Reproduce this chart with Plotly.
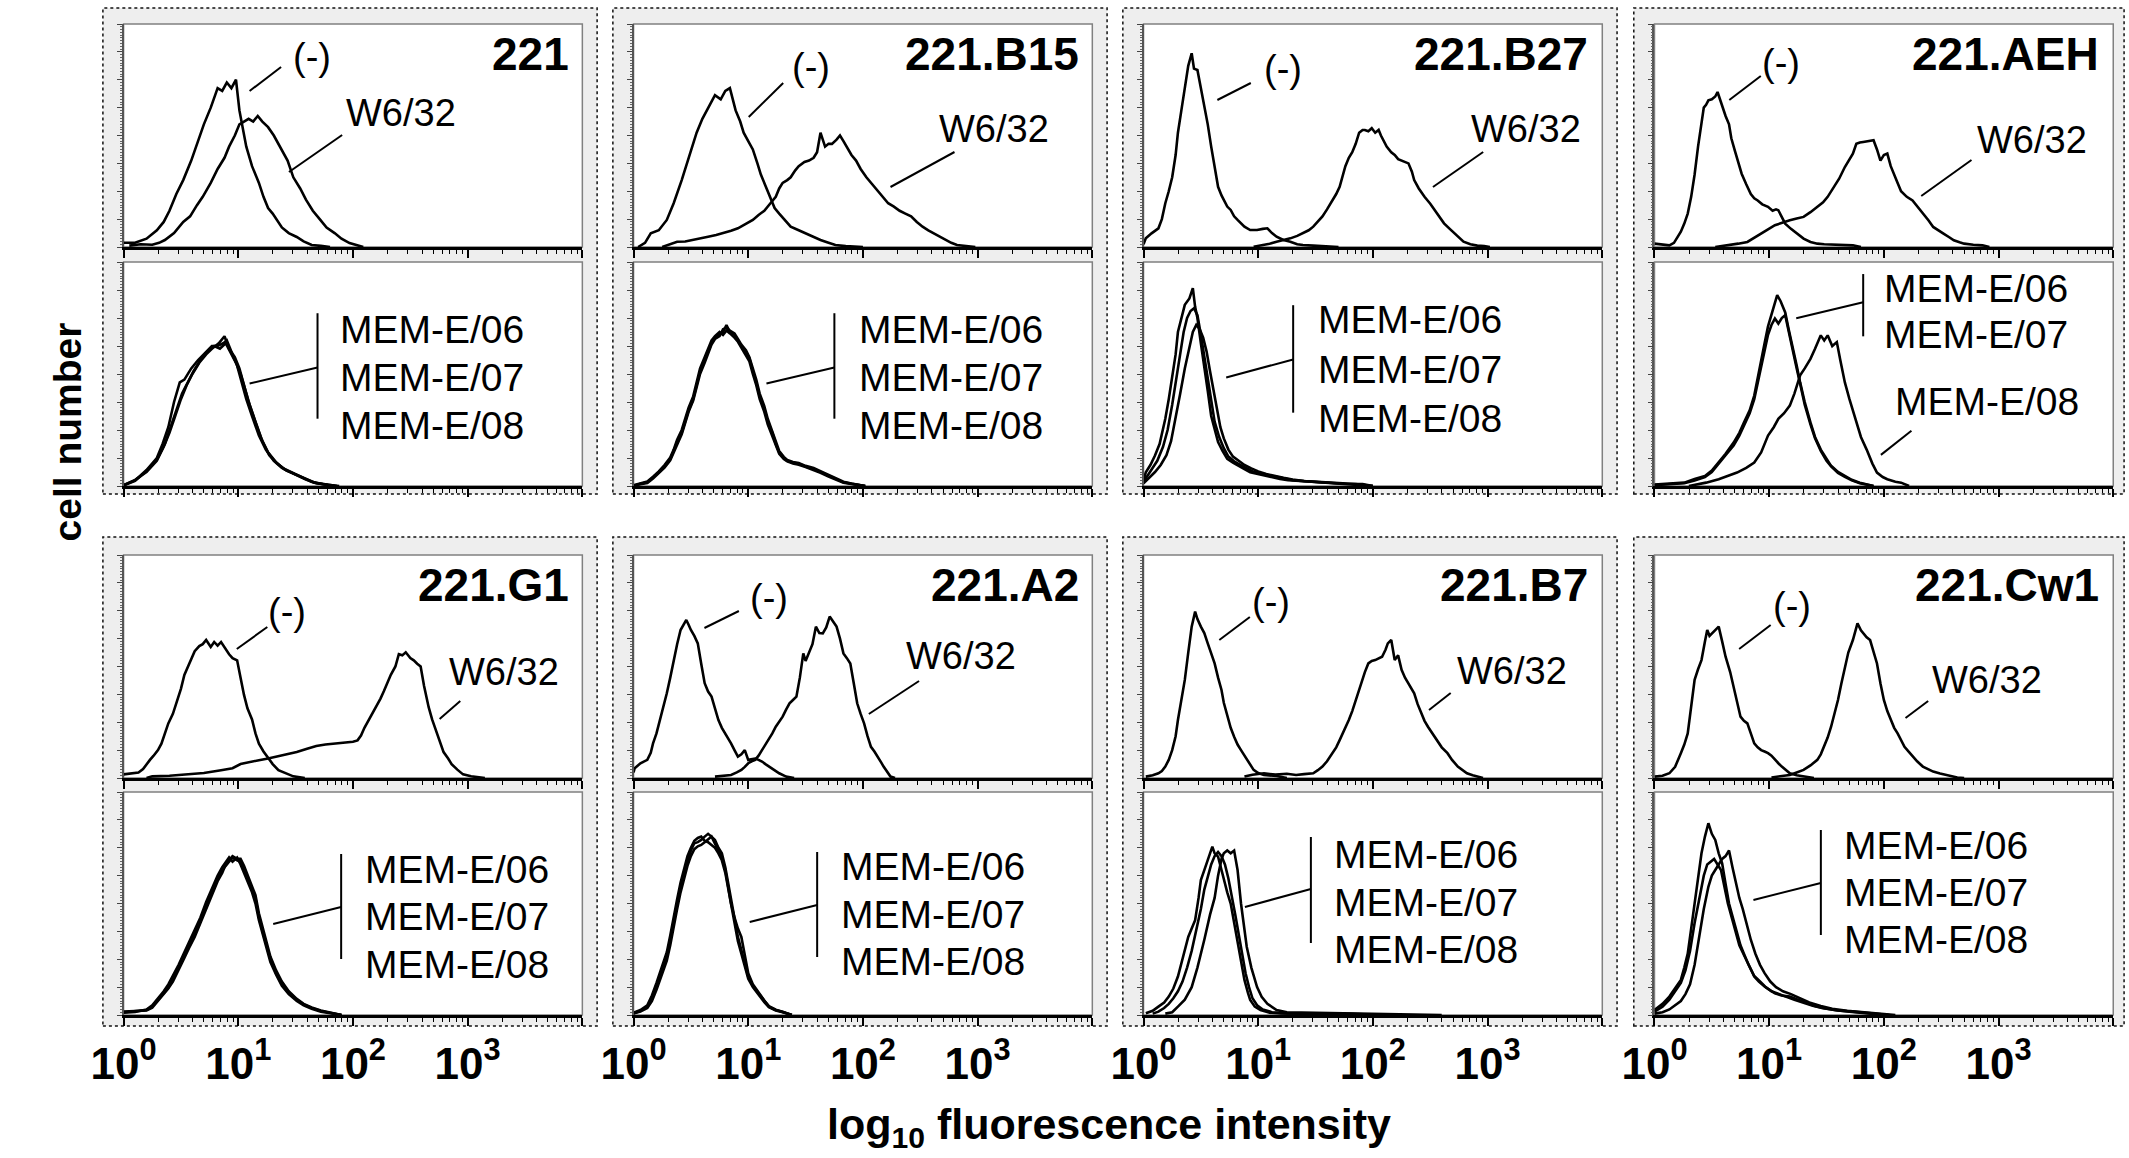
import math
import plotly.graph_objects as go

# ---------------- data (x = log10 fluorescence intensity, y = cell number) ----------------
PANEL_NAMES = ["221", "221.B15", "221.B27", "221.AEH", "221.G1", "221.A2", "221.B7", "221.Cw1"]
TICK_LABELS = ["10<sup>0</sup>", "10<sup>1</sup>", "10<sup>2</sup>", "10<sup>3</sup>", ""]
TICK_DECADES = [0, 1, 2, 3, 4]

C221_NEG = [(0,1.5),(0.1,1.5),(0.2,3),(0.29,6),(0.35,9),(0.40,13),(0.46,19),(0.52,24),(0.59,31),(0.64,37),(0.70,44),(0.76,50),(0.82,57),(0.86,56),(0.90,59),(0.94,57),(0.98,60),(1.01,49),(1.04,42),(1.07,36),(1.12,29),(1.18,23),(1.22,18),(1.26,14),(1.30,12),(1.38,7),(1.44,5),(1.51,3.6),(1.57,2),(1.64,0.7),(1.72,0.4),(1.80,0)]
C221_W = [(0.05,0.5),(0.15,1),(0.25,0.8),(0.31,1.5),(0.36,2.5),(0.44,5),(0.52,9),(0.58,11),(0.64,15),(0.69,18),(0.76,23),(0.82,28),(0.88,32),(0.92,36),(0.97,40),(1.01,44),(1.05,45),(1.09,46),(1.13,45),(1.17,47),(1.21,45),(1.26,43),(1.31,40),(1.38,35),(1.43,31),(1.48,25),(1.54,21),(1.59,17),(1.65,13),(1.71,10),(1.77,7),(1.84,5),(1.90,3),(1.97,1.4),(2.03,0.8),(2.09,0)]
C221_M06 = [(0,0.3),(0.1,2),(0.2,5.7),(0.29,10),(0.34,15),(0.39,21),(0.44,30),(0.49,37),(0.53,38),(0.59,42),(0.65,45),(0.72,48),(0.77,50),(0.82,50),(0.87,51),(0.90,52),(0.95,47),(0.99,43),(1.03,37),(1.07,31),(1.12,25),(1.18,18),(1.24,13),(1.31,9),(1.38,6.5),(1.48,4.6),(1.56,3),(1.64,1.5),(1.74,0.6),(1.84,0)]
C221_M07 = [(0,0.3),(0.1,2.2),(0.2,5),(0.29,9),(0.35,14),(0.40,19),(0.45,25),(0.50,31),(0.55,36),(0.60,40),(0.66,44),(0.72,47),(0.77,49),(0.83,51),(0.88,53.5),(0.92,49),(0.97,46),(1.01,42),(1.05,36),(1.09,30),(1.14,24),(1.20,17),(1.26,12),(1.33,8.5),(1.40,6),(1.50,4),(1.58,2.5),(1.66,1.2),(1.76,0.5),(1.86,0)]
C221_M08 = [(0,0.2),(0.1,1.8),(0.2,5.3),(0.29,9.5),(0.36,15),(0.41,21),(0.46,27),(0.51,33),(0.56,37),(0.61,41),(0.67,45),(0.73,48),(0.79,50),(0.84,49),(0.89,51),(0.93,48),(0.98,44),(1.02,40),(1.06,34),(1.10,29),(1.15,23),(1.21,16),(1.27,11),(1.34,8),(1.42,5.5),(1.52,3.8),(1.60,2.2),(1.68,1),(1.78,0.4),(1.88,0)]

CB15_NEG = [(0.04,0),(0.10,1.5),(0.15,4.9),(0.22,6),(0.29,9.7),(0.35,15.7),(0.42,24),(0.48,32),(0.55,41),(0.60,46),(0.65,50),(0.71,54.5),(0.76,53),(0.80,56),(0.84,57),(0.87,52),(0.89,49),(0.93,45),(0.96,41),(1.00,38),(1.04,35),(1.08,30),(1.11,26),(1.15,22),(1.19,18),(1.23,14),(1.27,12),(1.32,9.5),(1.37,7.3),(1.44,6),(1.50,4.9),(1.57,3.5),(1.63,2.5),(1.70,1.5),(1.76,0.7),(1.85,0.3),(1.93,0.1),(2.0,0)]
CB15_W = [(0.25,0),(0.30,0.8),(0.38,1.9),(0.45,2),(0.52,2.5),(0.58,3),(0.65,3.7),(0.72,4.3),(0.78,4.9),(0.85,5.8),(0.91,6.7),(0.97,8),(1.04,9.7),(1.09,11.5),(1.14,13),(1.19,15.5),(1.24,18),(1.27,21),(1.30,23),(1.34,24),(1.37,25),(1.41,27.5),(1.44,29),(1.49,30.5),(1.53,31),(1.57,32),(1.60,34),(1.63,41),(1.67,36),(1.70,37),(1.73,37),(1.77,38.5),(1.80,40),(1.83,38),(1.86,36),(1.90,33),(1.94,31),(1.98,28),(2.03,25),(2.08,22.5),(2.13,20),(2.18,17.5),(2.22,15.7),(2.27,14.5),(2.32,13),(2.37,12),(2.42,11),(2.47,9),(2.52,7.3),(2.57,6),(2.62,4.9),(2.67,3.5),(2.72,2.5),(2.77,1.5),(2.82,0.7),(2.90,0.4),(2.98,0)]
CB15_M06 = [(0,0),(0.06,0.8),(0.12,1.3),(0.17,3),(0.22,4.9),(0.27,7),(0.32,9.7),(0.35,12.5),(0.38,15.7),(0.42,19),(0.45,23),(0.48,27),(0.52,31),(0.55,36),(0.58,41),(0.62,45),(0.65,48),(0.68,51),(0.71,53),(0.75,54),(0.78,55),(0.81,57.5),(0.84,55),(0.88,54),(0.91,52),(0.94,50),(0.98,48),(1.01,45.6),(1.04,41),(1.07,37),(1.10,32),(1.14,27.6),(1.17,23),(1.21,19),(1.24,15),(1.27,12),(1.31,10),(1.34,9),(1.39,8.3),(1.44,7.9),(1.50,7),(1.57,6.1),(1.63,5),(1.70,3.7),(1.76,2.5),(1.83,1.3),(1.90,0.8),(1.96,0.4),(2.02,0)]
CB15_M07 = [(0,0.3),(0.06,1),(0.12,1.6),(0.17,3.3),(0.22,5.2),(0.27,7.5),(0.32,10.2),(0.35,13),(0.38,16.5),(0.42,20),(0.45,24),(0.48,28),(0.52,32),(0.55,37),(0.58,42),(0.62,46),(0.65,49),(0.68,52),(0.71,53.5),(0.75,55),(0.78,54),(0.81,55.5),(0.84,54.5),(0.88,53),(0.91,51.5),(0.94,49.5),(0.98,47),(1.01,44.5),(1.04,40),(1.07,36),(1.10,31),(1.14,26.5),(1.17,22),(1.21,18),(1.24,14.5),(1.27,11.5),(1.31,9.6),(1.34,8.8),(1.39,8),(1.44,7.6),(1.50,6.8),(1.57,5.8),(1.63,4.7),(1.70,3.4),(1.76,2.3),(1.83,1.2),(1.90,0.7),(1.96,0.3),(2.02,0)]
CB15_M08 = [(0,0.2),(0.06,0.6),(0.12,1.1),(0.17,2.7),(0.22,4.5),(0.27,6.6),(0.32,9.2),(0.35,12),(0.38,15),(0.42,18.5),(0.45,22.5),(0.48,26.5),(0.52,30.5),(0.55,35),(0.58,40),(0.62,44),(0.65,47.5),(0.68,50.5),(0.71,52.5),(0.75,53.5),(0.78,56),(0.81,56.5),(0.84,55.5),(0.88,54.5),(0.91,52.5),(0.94,50.5),(0.98,48.5),(1.01,46),(1.04,42),(1.07,38),(1.10,33),(1.14,28.5),(1.17,24),(1.21,19.5),(1.24,15.5),(1.27,12.5),(1.31,10.4),(1.34,9.3),(1.39,8.6),(1.44,8.2),(1.50,7.2),(1.57,6.4),(1.63,5.3),(1.70,4),(1.76,2.7),(1.83,1.5),(1.90,0.9),(1.96,0.5),(2.02,0)]

CB27_NEG = [(0.0,1),(0.02,3.1),(0.07,4.9),(0.13,6.7),(0.16,10),(0.19,15.7),(0.22,20),(0.25,25),(0.28,33),(0.30,41),(0.33,49),(0.36,57.5),(0.39,65),(0.42,69.5),(0.44,64),(0.47,63.5),(0.50,57),(0.53,51.5),(0.56,44),(0.59,36),(0.62,28),(0.65,21.6),(0.68,18.5),(0.70,16.9),(0.73,14.5),(0.76,13.3),(0.79,11),(0.82,9.7),(0.85,8.5),(0.88,7.3),(0.93,6.1),(0.99,6.1),(1.04,6.5),(1.08,6.7),(1.12,5),(1.16,3.7),(1.22,2.5),(1.28,1.9),(1.34,1),(1.39,0.7),(1.48,0.5),(1.56,0.4),(1.65,0.2),(1.70,0)]
CB27_W = [(0.96,0.1),(1.05,0.7),(1.10,1.2),(1.16,1.9),(1.22,2.5),(1.28,3.1),(1.34,4),(1.39,4.9),(1.44,6),(1.48,7.3),(1.52,9),(1.56,11),(1.60,13.5),(1.65,16.9),(1.68,19),(1.71,21.6),(1.74,26),(1.76,29),(1.79,32),(1.82,34),(1.85,37),(1.88,41),(1.91,42),(1.93,42),(1.96,41.5),(1.99,42.6),(2.02,41),(2.05,42),(2.07,40),(2.09,38.4),(2.12,36),(2.16,34),(2.19,33),(2.22,31.5),(2.25,31),(2.28,30.5),(2.31,30),(2.34,27),(2.36,24),(2.40,21),(2.45,18),(2.50,15.5),(2.54,13.3),(2.58,11),(2.62,8.5),(2.67,6.5),(2.71,4.9),(2.75,3.3),(2.79,1.9),(2.85,1),(2.91,0.5),(2.97,0.3),(3.02,0)]
CB27_M06 = [(0.0,2),(0.02,4.9),(0.06,7.5),(0.10,10.9),(0.14,15),(0.19,24),(0.22,31),(0.25,39.6),(0.28,47),(0.30,55),(0.33,60),(0.36,64.7),(0.40,67),(0.43,70.7),(0.45,64),(0.47,60),(0.50,51),(0.53,43),(0.56,34),(0.59,25),(0.62,20),(0.65,15.7),(0.69,12.5),(0.73,9.7),(0.78,8.3),(0.82,7.3),(0.88,6),(0.93,4.9),(1.00,4.2),(1.05,3.7),(1.12,3),(1.19,2.5),(1.26,2.1),(1.33,1.9),(1.45,1.5),(1.62,1.1),(1.75,0.8),(1.91,0.7),(2.0,0)]
CB27_M07 = [(0.0,1.5),(0.04,4),(0.08,6.5),(0.12,9),(0.17,14),(0.21,20),(0.25,29),(0.29,39),(0.32,48),(0.35,55),(0.38,60),(0.41,62.5),(0.44,63.5),(0.47,61),(0.50,54),(0.53,46),(0.56,38),(0.59,30),(0.62,23),(0.66,17.5),(0.70,13.5),(0.74,10.5),(0.79,8.8),(0.84,7.6),(0.90,6.3),(0.95,5.2),(1.02,4.4),(1.08,3.9),(1.15,3.2),(1.22,2.6),(1.30,2.1),(1.40,1.7),(1.55,1.3),(1.70,0.9),(1.85,0.6),(2.0,0)]
CB27_M08 = [(0.0,1),(0.05,3),(0.10,5),(0.15,7.5),(0.20,11),(0.24,16),(0.28,24),(0.32,33),(0.36,42),(0.40,50),(0.43,55),(0.46,57.5),(0.49,56),(0.52,53),(0.55,48),(0.58,41),(0.61,34),(0.64,27),(0.67,21),(0.70,17),(0.74,13),(0.78,10.5),(0.83,9),(0.88,7.5),(0.94,6.3),(1.00,5.2),(1.07,4.3),(1.14,3.6),(1.22,2.9),(1.30,2.3),(1.40,1.8),(1.55,1.4),(1.70,1),(1.85,0.7),(2.0,0)]

CAEH_NEG = [(0.0,1.2),(0.07,0.8),(0.13,0.6),(0.17,1.5),(0.20,3.6),(0.23,5.5),(0.26,8.4),(0.29,12),(0.32,18),(0.35,26),(0.38,36),(0.41,44),(0.43,50),(0.45,51),(0.47,52.6),(0.50,53),(0.53,54),(0.55,55.6),(0.57,53),(0.59,50),(0.62,47),(0.65,44),(0.67,39),(0.70,34.7),(0.73,30),(0.76,26.3),(0.80,22.5),(0.84,19),(0.87,17.5),(0.90,16.7),(0.94,15.3),(0.99,14.4),(1.03,13),(1.06,13.5),(1.08,13.2),(1.11,11),(1.14,8.4),(1.19,6.5),(1.24,4.8),(1.30,3),(1.36,1.8),(1.42,1.2),(1.48,1),(1.60,0.7),(1.73,0.6),(1.80,0)]
CAEH_W = [(0.53,0),(0.65,0.6),(0.73,1.2),(0.81,1.8),(0.87,3.2),(0.93,4.8),(0.99,6.3),(1.05,7.8),(1.12,8.8),(1.18,9.6),(1.24,10.2),(1.30,10.8),(1.36,12.5),(1.42,14.4),(1.47,16),(1.51,18),(1.54,20),(1.57,21.5),(1.61,24.5),(1.66,28.7),(1.70,31.5),(1.73,33.5),(1.76,37),(1.79,37.5),(1.82,37.7),(1.86,38),(1.91,38.3),(1.94,35),(1.97,31),(2.00,33),(2.03,33.5),(2.06,29),(2.09,26.3),(2.12,23),(2.15,20),(2.20,18),(2.25,16.7),(2.30,14.2),(2.34,12),(2.39,9.5),(2.43,7.2),(2.48,6),(2.52,4.8),(2.57,3.5),(2.61,2.4),(2.66,1.7),(2.70,1.2),(2.78,0.8),(2.86,0.6),(2.92,0)]
CAEH_M06 = [(0.0,0.5),(0.15,1),(0.26,1.2),(0.35,2.5),(0.44,3.6),(0.50,5.5),(0.56,8.4),(0.62,11.5),(0.69,15.5),(0.74,19),(0.78,22.7),(0.83,27),(0.87,32.3),(0.90,39),(0.93,45.4),(0.96,51),(0.99,57),(1.01,59.8),(1.04,64),(1.07,68.2),(1.10,66),(1.14,62),(1.17,56),(1.21,49),(1.24,43),(1.27,37),(1.31,30),(1.36,22.7),(1.40,17.5),(1.45,13),(1.50,9.5),(1.54,7.2),(1.60,5),(1.66,3.6),(1.72,2.2),(1.79,1.2),(1.85,0.6),(1.91,0)]
CAEH_M07 = [(0.0,0.3),(0.15,0.8),(0.26,1),(0.35,2),(0.44,3.2),(0.50,5),(0.56,7.8),(0.62,11),(0.69,14.5),(0.74,18),(0.78,21.5),(0.83,26),(0.87,31),(0.90,37),(0.93,43),(0.96,49),(0.99,54),(1.02,57.5),(1.05,59.8),(1.08,58),(1.11,60),(1.14,61),(1.17,55),(1.21,48),(1.24,42),(1.27,36.5),(1.31,29),(1.36,22),(1.40,17),(1.45,12.5),(1.50,9),(1.54,7),(1.60,4.7),(1.66,3.3),(1.72,2),(1.79,1),(1.85,0.5),(1.91,0)]
CAEH_M08 = [(0.30,0),(0.45,1.2),(0.56,2.4),(0.64,3.6),(0.72,4.8),(0.80,6.5),(0.87,8.4),(0.93,12),(0.99,18),(1.04,21),(1.08,24),(1.13,26),(1.18,28.7),(1.22,33),(1.27,39.5),(1.31,42),(1.36,45.4),(1.40,49),(1.45,53.8),(1.48,52),(1.51,53.8),(1.55,50),(1.59,51.4),(1.62,45),(1.66,37),(1.70,31),(1.76,22.7),(1.80,17.5),(1.85,13),(1.90,8),(1.94,4.8),(1.99,3.2),(2.03,2.4),(2.10,1.5),(2.15,1.2),(2.22,0)]

CG1_NEG = [(0.0,1.3),(0.06,1.5),(0.13,2),(0.17,3.2),(0.20,5),(0.23,6.5),(0.26,7.9),(0.30,10),(0.33,12.3),(0.36,16),(0.39,19.6),(0.43,23),(0.46,26.9),(0.50,32),(0.53,37),(0.56,40),(0.59,43),(0.62,45.5),(0.66,47.3),(0.69,48),(0.72,49.5),(0.76,47),(0.79,48.8),(0.82,47.5),(0.85,48.8),(0.89,46),(0.92,44.4),(0.95,43),(0.99,42.2),(1.02,36),(1.05,29.8),(1.08,25),(1.12,21),(1.15,16),(1.18,12.3),(1.22,9.5),(1.25,7.9),(1.30,5),(1.35,2.8),(1.42,1.5),(1.48,0.6),(1.58,0)]
CG1_W = [(0.20,0),(0.25,0.6),(0.40,0.8),(0.53,1.3),(0.70,1.8),(0.85,2.8),(0.95,3.5),(1.02,5),(1.10,5.8),(1.18,6.4),(1.26,7),(1.35,7.9),(1.43,8.5),(1.51,9.3),(1.60,10.5),(1.68,11.5),(1.76,12),(1.84,12.3),(1.92,12.5),(2.00,13),(2.04,13.5),(2.07,15.2),(2.10,18),(2.14,21),(2.17,23),(2.20,25.4),(2.24,28.5),(2.27,31.2),(2.30,34),(2.33,37),(2.37,40),(2.40,44.4),(2.43,44),(2.46,45.1),(2.50,43),(2.53,42.2),(2.56,41),(2.59,40),(2.62,33),(2.66,25.4),(2.69,21),(2.73,16.6),(2.76,13),(2.79,9.3),(2.83,7),(2.86,5),(2.91,3),(2.96,1.3),(3.03,0.6),(3.09,0.3),(3.15,0)]
CG1_M06 = [(0.0,1),(0.10,1.3),(0.20,1.8),(0.25,3),(0.30,5.4),(0.35,8),(0.39,9.8),(0.43,13),(0.48,17),(0.53,21.5),(0.57,25),(0.62,28.8),(0.67,34),(0.72,39),(0.77,44),(0.82,49.2),(0.86,52),(0.89,53.6),(0.92,55),(0.95,56.5),(0.99,55.5),(1.02,55),(1.05,52),(1.08,49.2),(1.12,45),(1.15,41.9),(1.18,35),(1.22,28.8),(1.25,24),(1.28,20),(1.33,15),(1.38,11.2),(1.44,8),(1.51,5.4),(1.57,3.8),(1.64,2.5),(1.72,1.4),(1.81,0.7),(1.90,0)]
CG1_M07 = [(0.0,0.8),(0.10,1.1),(0.20,2),(0.25,3.5),(0.30,6),(0.35,8.5),(0.39,11),(0.43,14),(0.48,18),(0.53,22.5),(0.57,26),(0.62,30),(0.67,35),(0.72,40.5),(0.77,45.5),(0.82,50),(0.86,53),(0.89,55),(0.92,56.5),(0.95,55),(0.99,56.5),(1.02,54),(1.05,51),(1.08,48),(1.12,44),(1.15,40),(1.18,34),(1.22,28),(1.25,23),(1.28,19),(1.33,14.5),(1.38,10.5),(1.44,7.5),(1.51,5),(1.57,3.5),(1.64,2.2),(1.72,1.2),(1.81,0.6),(1.90,0)]
CG1_M08 = [(0.0,1.2),(0.10,1.5),(0.20,1.6),(0.25,2.6),(0.30,5),(0.35,7.5),(0.39,9.5),(0.43,12),(0.48,16),(0.53,20.5),(0.57,24),(0.62,28),(0.67,33),(0.72,38),(0.77,43),(0.82,48),(0.86,51),(0.89,54),(0.92,55.5),(0.95,57),(0.99,56),(1.02,56),(1.05,53.5),(1.08,50.5),(1.12,46.5),(1.15,43),(1.18,36.5),(1.22,30),(1.25,25),(1.28,21),(1.33,16),(1.38,12),(1.44,8.5),(1.51,5.8),(1.57,4),(1.64,2.7),(1.72,1.6),(1.81,0.8),(1.90,0)]

CA2_NEG = [(0.0,2),(0.01,3.5),(0.06,5.3),(0.12,6.5),(0.15,9),(0.17,12.4),(0.20,16),(0.23,20.8),(0.26,25),(0.29,30.4),(0.32,36),(0.35,42.3),(0.38,48),(0.41,53.1),(0.44,55),(0.46,56.7),(0.48,55),(0.50,53.1),(0.53,51),(0.56,48.3),(0.59,41),(0.62,34),(0.65,31),(0.68,29.2),(0.71,25),(0.74,20.8),(0.77,18),(0.80,16),(0.83,14),(0.85,12.4),(0.88,10),(0.91,7.7),(0.94,8.5),(0.97,10),(1.00,6.5),(1.03,6.8),(1.06,7),(1.09,6.5),(1.12,5.9),(1.15,5),(1.18,4.1),(1.22,3),(1.27,1.7),(1.33,0.5),(1.40,0)]
CA2_W = [(0.71,0.5),(0.78,0.8),(0.85,1.1),(0.90,2),(0.94,2.9),(0.97,4),(1.00,5.3),(1.03,6),(1.06,6.5),(1.09,8),(1.12,10),(1.15,12),(1.18,13.6),(1.21,16),(1.24,18.4),(1.27,20),(1.30,22),(1.33,24.5),(1.36,26.8),(1.39,28),(1.42,29.2),(1.45,36),(1.48,44.7),(1.50,42),(1.53,44.7),(1.56,48),(1.59,54.3),(1.62,52),(1.65,51.9),(1.68,54),(1.71,57.9),(1.74,56),(1.77,54.3),(1.80,50),(1.83,44.7),(1.86,43),(1.89,41.1),(1.92,34),(1.95,26.8),(1.98,23),(2.01,19.6),(2.04,15),(2.07,11.2),(2.10,9.5),(2.13,7.7),(2.16,5.5),(2.18,4.1),(2.21,2.2),(2.24,0.5),(2.28,0)]
CA2_M06 = [(0.0,0.6),(0.06,1.5),(0.12,3),(0.16,6),(0.20,10.2),(0.24,15),(0.29,21),(0.32,27),(0.35,34),(0.38,40),(0.41,46),(0.44,51),(0.47,55.6),(0.50,59),(0.53,61.6),(0.56,62),(0.59,62.8),(0.62,64),(0.65,65),(0.68,64),(0.71,62.8),(0.74,60),(0.77,58),(0.80,53),(0.82,48.4),(0.85,41),(0.88,34),(0.91,28),(0.94,23.3),(0.97,18),(1.00,13.8),(1.04,10.5),(1.09,7.8),(1.14,5),(1.18,3),(1.24,1.8),(1.30,1.2),(1.38,0)]
CA2_M07 = [(0.0,0.5),(0.06,1.2),(0.12,2.5),(0.16,5),(0.20,9),(0.24,13.5),(0.29,19.5),(0.32,25),(0.35,32),(0.38,38),(0.41,44),(0.44,49),(0.47,53.5),(0.50,57),(0.53,59.5),(0.56,60.5),(0.59,61),(0.62,62),(0.65,63),(0.68,64),(0.71,61.5),(0.74,59),(0.77,56.5),(0.80,52),(0.82,47),(0.85,40),(0.88,35),(0.91,31),(0.94,28),(0.97,21),(1.00,15),(1.04,11),(1.09,8),(1.14,5.2),(1.18,3.2),(1.24,1.9),(1.30,1.1),(1.38,0)]
CA2_M08 = [(0.0,0.8),(0.06,1.8),(0.12,3.5),(0.16,7),(0.20,11.5),(0.24,16.5),(0.29,22.5),(0.32,28.5),(0.35,35.5),(0.38,41.5),(0.41,47.5),(0.44,52.5),(0.47,57),(0.50,60),(0.53,62.5),(0.56,63.5),(0.59,64),(0.62,62.5),(0.65,62),(0.68,61),(0.71,60),(0.74,58),(0.77,55.5),(0.80,51),(0.82,46.5),(0.85,39),(0.88,32.5),(0.91,26.5),(0.94,22),(0.97,17),(1.00,13),(1.04,10),(1.09,7.2),(1.14,4.6),(1.18,2.8),(1.24,1.6),(1.30,1),(1.38,0)]

CB7_NEG = [(0.02,0.5),(0.08,1),(0.13,1.7),(0.16,2.5),(0.19,4.1),(0.22,6.5),(0.25,10),(0.28,15),(0.30,20.8),(0.33,28),(0.36,35.2),(0.39,45),(0.42,54.3),(0.45,59.7),(0.47,57),(0.50,54.3),(0.53,52),(0.56,48.3),(0.59,45),(0.62,41.1),(0.65,36),(0.68,31.6),(0.70,27),(0.73,22),(0.76,18),(0.79,14.8),(0.82,12),(0.85,10),(0.88,8),(0.90,6.5),(0.93,4.5),(0.96,2.9),(1.00,1.8),(1.05,1.1),(1.16,0.7),(1.25,0)]
CB7_W = [(0.88,0.5),(0.95,1.2),(1.05,1.7),(1.15,1.2),(1.25,1.5),(1.33,1.1),(1.40,1.4),(1.48,1.7),(1.52,2.8),(1.56,4.1),(1.60,6),(1.65,8.9),(1.68,11),(1.71,13.6),(1.75,17),(1.79,20.8),(1.82,24),(1.85,28),(1.88,31.5),(1.91,35.2),(1.93,38),(1.96,41.1),(1.99,42),(2.02,42.3),(2.05,43),(2.08,43.5),(2.11,46),(2.13,48.3),(2.16,49.5),(2.19,42.3),(2.22,44),(2.25,38.8),(2.28,36),(2.31,34),(2.34,32),(2.36,30.4),(2.39,26.5),(2.42,23.2),(2.45,20.5),(2.48,18.4),(2.52,16),(2.56,13.6),(2.60,11),(2.65,8.9),(2.69,6.5),(2.74,4.1),(2.78,2.8),(2.82,1.7),(2.87,1),(2.91,0.5),(2.96,0)]
CB7_M06 = [(0.02,0.6),(0.08,1.5),(0.13,3),(0.18,4.5),(0.22,6.6),(0.26,9.5),(0.30,13.8),(0.34,20),(0.39,28),(0.42,31),(0.45,34),(0.48,42),(0.50,48.4),(0.53,52),(0.56,55.6),(0.58,58),(0.60,60.4),(0.62,58),(0.65,56.8),(0.68,52),(0.70,48.4),(0.73,44),(0.76,40),(0.79,33),(0.82,25.7),(0.85,19),(0.88,12.6),(0.91,8),(0.93,5.4),(0.97,3),(1.02,1.8),(1.10,0.8),(1.20,0.6),(1.40,0.5),(1.70,0.4),(2.0,0.2),(2.1,0)]
CB7_M07 = [(0.08,0.5),(0.13,1.2),(0.18,2.5),(0.22,4),(0.26,6),(0.30,8.5),(0.34,12),(0.38,17),(0.42,23),(0.46,30),(0.50,38),(0.53,45),(0.56,50),(0.59,54),(0.62,57),(0.65,58.5),(0.68,57),(0.71,54),(0.74,49),(0.77,43),(0.80,36),(0.83,29),(0.86,22),(0.89,15),(0.92,10),(0.95,6),(0.99,3.5),(1.04,2),(1.12,1),(1.25,0.6),(1.50,0.5),(1.80,0.4),(2.1,0)]
CB7_M08 = [(0.19,0.5),(0.25,1),(0.30,3),(0.36,5.5),(0.42,10),(0.47,17),(0.53,27),(0.58,36),(0.62,42),(0.65,50),(0.68,56),(0.70,58),(0.73,59),(0.76,58),(0.79,59),(0.82,52),(0.85,40),(0.88,30),(0.90,24.5),(0.94,17),(0.99,10),(1.03,6.5),(1.08,4),(1.16,1.8),(1.25,1),(1.50,0.8),(1.80,0.6),(2.1,0.4),(2.5,0.2),(2.6,0)]

CCW1_NEG = [(0.0,0.5),(0.07,0.8),(0.13,1.7),(0.18,4),(0.23,8.9),(0.26,12),(0.29,16),(0.32,26),(0.35,35.2),(0.38,39),(0.41,42.3),(0.44,49),(0.46,53.1),(0.48,51),(0.50,51.9),(0.53,53),(0.56,54.3),(0.59,49),(0.62,43.5),(0.66,38),(0.69,32.8),(0.72,27),(0.75,22),(0.78,20.5),(0.81,19.6),(0.84,16),(0.87,12.4),(0.90,11),(0.93,10),(0.96,9.5),(0.99,8.9),(1.02,8),(1.05,6.5),(1.08,5.3),(1.11,4.1),(1.15,2.8),(1.18,1.7),(1.24,1),(1.30,0.5),(1.39,0)]
CCW1_W = [(1.02,0.2),(1.10,0.6),(1.18,1.1),(1.24,2),(1.30,2.9),(1.36,4.5),(1.42,6.5),(1.45,8.5),(1.48,11.2),(1.51,14.5),(1.54,18.4),(1.57,23),(1.60,28),(1.63,34),(1.66,40),(1.69,45),(1.73,49.5),(1.75,53),(1.77,55.5),(1.80,53),(1.82,51.9),(1.85,50.5),(1.88,49.5),(1.91,45),(1.94,41.1),(1.97,34),(2.00,28),(2.03,24),(2.06,20.8),(2.09,18),(2.12,16),(2.15,13.5),(2.18,11.2),(2.22,9.3),(2.25,7.7),(2.29,6),(2.34,4.1),(2.39,3),(2.43,2.3),(2.49,1.6),(2.55,1.1),(2.60,0.6),(2.64,0.2),(2.70,0)]
CCW1_M06 = [(0.0,1.8),(0.07,4),(0.13,6.6),(0.18,9.5),(0.23,12.6),(0.26,17),(0.29,22),(0.32,31),(0.35,40),(0.38,49),(0.41,58),(0.44,64),(0.47,68.8),(0.50,65),(0.53,62.8),(0.56,58),(0.59,54.4),(0.62,47),(0.65,40),(0.69,34),(0.72,29.3),(0.75,25),(0.78,22),(0.82,18),(0.87,13.8),(0.91,12),(0.96,10.2),(1.00,9),(1.05,7.8),(1.11,7),(1.18,6.6),(1.25,5.5),(1.33,4.2),(1.40,3.2),(1.48,2.4),(1.60,1.6),(1.73,1.2),(1.85,0.8),(1.94,0.6),(2.05,0)]
CCW1_M07 = [(0.0,1.2),(0.07,3),(0.13,5.5),(0.18,8.5),(0.23,11.5),(0.27,16),(0.31,23),(0.35,33),(0.39,42),(0.43,50),(0.46,54),(0.49,55),(0.52,56),(0.55,54),(0.58,52),(0.61,46),(0.64,40),(0.68,34),(0.71,29),(0.74,25),(0.78,21.5),(0.82,18),(0.87,14),(0.92,12),(0.97,10),(1.02,8.5),(1.08,7.5),(1.15,6.5),(1.22,5.5),(1.30,4.3),(1.38,3.3),(1.46,2.5),(1.58,1.7),(1.70,1.2),(1.85,0.7),(2.0,0)]
CCW1_M08 = [(0.0,0.5),(0.07,1),(0.13,2),(0.18,3.5),(0.23,5),(0.27,7.5),(0.31,11),(0.35,18),(0.39,28),(0.43,38),(0.47,46),(0.50,50),(0.53,52),(0.56,54),(0.59,56),(0.62,57),(0.65,59),(0.68,53),(0.71,47),(0.74,42),(0.77,38),(0.80,33),(0.84,27),(0.88,22),(0.92,18),(0.96,15),(1.01,12),(1.06,10),(1.12,8.5),(1.19,7.5),(1.27,6),(1.35,4.5),(1.45,3.2),(1.55,2.2),(1.68,1.5),(1.82,1),(1.95,0.6),(2.10,0)]

NEG_CURVES = [C221_NEG, CB15_NEG, CB27_NEG, CAEH_NEG, CG1_NEG, CA2_NEG, CB7_NEG, CCW1_NEG]
W632_CURVES = [C221_W, CB15_W, CB27_W, CAEH_W, CG1_W, CA2_W, CB7_W, CCW1_W]
MEM_CURVES = [
    [C221_M06, C221_M07, C221_M08], [CB15_M06, CB15_M07, CB15_M08],
    [CB27_M06, CB27_M07, CB27_M08], [CAEH_M06, CAEH_M07, CAEH_M08],
    [CG1_M06, CG1_M07, CG1_M08], [CA2_M06, CA2_M07, CA2_M08],
    [CB7_M06, CB7_M07, CB7_M08], [CCW1_M06, CCW1_M07, CCW1_M08],
]

# ---------------- layout (pixels) ----------------
W, H = 2129, 1158
FONT = "Liberation Sans, Arial, sans-serif"
COL_LEFT = [92, 610, 1128, 1647]
PW = 466
ROWS = [((24, 247), (262, 486)), ((555, 778), (792, 1015))]
PH = 223
BOX_X = [(71, 573), (589, 1091), (1107, 1609), (1626, 2124)]
BOX_Y = [(8, 494), (537, 1026)]

# label placements relative to each upper/lower plot's top-left corner (px)
LBL = [
    dict(neg=(191, 33), negl=(128, 67, 160, 43), w=(282, 92), wl=(168, 148, 222, 111),
         ml=218, my=[70, 118, 166], bar=(197, 51, 156), mline=(128, 121, 197, 105)),
    dict(neg=(180, 43), negl=(117, 93, 152, 59), w=(366, 108), wl=(261, 163, 326, 128),
         ml=227, my=[70, 118, 166], bar=(204, 51, 156), mline=(135, 121, 204, 105)),
    dict(neg=(142, 45), negl=(75, 76, 109, 59), w=(388, 108), wl=(294, 163, 345, 128),
         ml=175, my=[60, 110, 159], bar=(152, 43, 150), mline=(84, 115, 152, 97)),
    dict(neg=(129, 39), negl=(76, 76, 108, 52), w=(383, 119), wl=(271, 172, 322, 136),
         ml=231, my=[29, 75], bar=(212, 12, 74), mline=(144, 56, 212, 40),
         m08=(242, 142), m08l=(230, 192, 261, 168)),
    dict(neg=(166, 57), negl=(115, 94, 146, 72), w=(386, 120), wl=(321, 164, 342, 146),
         ml=243, my=[80, 127, 175], bar=(221, 62, 167), mline=(152, 132, 221, 115)),
    dict(neg=(138, 43), negl=(72, 73, 107, 56), w=(333, 104), wl=(239, 159, 290, 126),
         ml=209, my=[77, 125, 172], bar=(186.5, 60, 165), mline=(118, 130, 186.5, 113)),
    dict(neg=(129, 47), negl=(77, 85, 108, 62), w=(374, 119), wl=(290, 155, 312, 138),
         ml=191, my=[65, 113, 160], bar=(170, 45, 151), mline=(103, 115, 170, 97)),
    dict(neg=(140, 51), negl=(86, 94, 118, 70), w=(338, 128), wl=(255, 163, 278, 146),
         ml=190, my=[56, 103, 150], bar=(169, 38, 143), mline=(100.5, 108, 169, 91)),
]

LABEL_SIZE = 38
MEM_SIZE = 39
TITLE_SIZE = 46
TICK_SIZE = 44
LW = 2.6

fig = go.Figure()
shapes = []
annotations = []
layout_axes = {}

MINOR_X = [d + math.log10(k) for d in range(4) for k in range(2, 10)]


def ax_names(n):
    return ("x" if n == 1 else f"x{n}", "y" if n == 1 else f"y{n}")


def xd(px):
    return px / PW


def yd(py):
    return 1 - py / PH


# gray outer panels with dotted border
for (bx0, bx1) in BOX_X:
    for (by0, by1) in BOX_Y:
        shapes.append(dict(type="rect", xref="paper", yref="paper", layer="below",
                           x0=bx0 / W, x1=bx1 / W, y0=1 - by1 / H, y1=1 - by0 / H,
                           fillcolor="#eeeeee", line=dict(color="#111111", width=1.5, dash="dot")))

for p in range(8):
    rb, col = divmod(p, 4)
    left = COL_LEFT[col]
    for part in range(2):
        n = 1 + rb * 8 + col * 2 + part
        xa, ya = ax_names(n)
        top, bot = ROWS[rb][part]
        bottom_row = (rb == 1 and part == 1)
        layout_axes["xaxis" if n == 1 else f"xaxis{n}"] = dict(
            domain=[left / W, (left + PW) / W], anchor=ya, range=[0, 4],
            showgrid=False, zeroline=False, showline=True, linecolor="black", linewidth=2.5,
            ticks="outside", ticklen=8, tickwidth=1.5, tickcolor="black",
            tickmode="array", tickvals=TICK_DECADES,
            ticktext=["<b>" + t + "</b>" if t else "" for t in TICK_LABELS],
            showticklabels=bottom_row, tickfont=dict(size=TICK_SIZE, family=FONT, color="black"),
            minor=dict(tickmode="array", tickvals=MINOR_X, ticks="outside", ticklen=4,
                       tickwidth=1.2, tickcolor="black"),
            fixedrange=True,
        )
        layout_axes["yaxis" if n == 1 else f"yaxis{n}"] = dict(
            domain=[1 - bot / H, 1 - top / H], anchor=xa, range=[0, 80],
            showgrid=False, zeroline=False, showline=True, linecolor="#555555", linewidth=1.5,
            ticks="outside", ticklen=5, tickwidth=1, tickcolor="#444444", dtick=10,
            showticklabels=False,
            minor=dict(dtick=1, ticks="outside", ticklen=2, tickwidth=1, tickcolor="#666666"),
            fixedrange=True,
        )
        # white plot area with light gray frame
        shapes.append(dict(type="rect", xref=f"{xa} domain", yref=f"{ya} domain", layer="below",
                           x0=0, x1=1, y0=0, y1=1, fillcolor="white",
                           line=dict(color="#808080", width=1.5)))
        if part == 0:
            curves = [NEG_CURVES[p], W632_CURVES[p]]
        else:
            curves = MEM_CURVES[p]
        for c in curves:
            fig.add_trace(go.Scatter(x=[v[0] for v in c], y=[v[1] for v in c], xaxis=xa, yaxis=ya,
                                     mode="lines", line=dict(color="black", width=LW),
                                     hoverinfo="skip", showlegend=False))
        L = LBL[p]
        if part == 0:
            annotations.append(dict(xref=f"{xa} domain", yref=f"{ya} domain", x=1 - 12 / PW, y=yd(30),
                                    xanchor="right", yanchor="middle", showarrow=False,
                                    text="<b>" + PANEL_NAMES[p] + "</b>",
                                    font=dict(size=TITLE_SIZE, family=FONT, color="black")))
            annotations.append(dict(xref=f"{xa} domain", yref=f"{ya} domain", x=xd(L["neg"][0]), y=yd(L["neg"][1]),
                                    xanchor="center", yanchor="middle", showarrow=False, text="(-)",
                                    font=dict(size=LABEL_SIZE, family=FONT, color="black")))
            annotations.append(dict(xref=f"{xa} domain", yref=f"{ya} domain", x=xd(L["w"][0]), y=yd(L["w"][1] - 3),
                                    xanchor="center", yanchor="middle", showarrow=False, text="W6/32",
                                    font=dict(size=LABEL_SIZE, family=FONT, color="black")))
            for key in ("negl", "wl"):
                a, b, c2, d = L[key]
                shapes.append(dict(type="line", xref=f"{xa} domain", yref=f"{ya} domain",
                                   x0=xd(a), y0=yd(b), x1=xd(c2), y1=yd(d), line=dict(color="black", width=2)))
        else:
            names = ["MEM-E/06", "MEM-E/07", "MEM-E/08"]
            for i, yy in enumerate(L["my"]):
                annotations.append(dict(xref=f"{xa} domain", yref=f"{ya} domain", x=xd(L["ml"]), y=yd(yy - 3),
                                        xanchor="left", yanchor="middle", showarrow=False, text=names[i],
                                        font=dict(size=MEM_SIZE, family=FONT, color="black")))
            if "m08" in L:
                annotations.append(dict(xref=f"{xa} domain", yref=f"{ya} domain", x=xd(L["m08"][0]), y=yd(L["m08"][1] - 3),
                                        xanchor="left", yanchor="middle", showarrow=False, text=names[2],
                                        font=dict(size=MEM_SIZE, family=FONT, color="black")))
                a, b, c2, d = L["m08l"]
                shapes.append(dict(type="line", xref=f"{xa} domain", yref=f"{ya} domain",
                                   x0=xd(a), y0=yd(b), x1=xd(c2), y1=yd(d), line=dict(color="black", width=2)))
            bx, by0, by1 = L["bar"]
            shapes.append(dict(type="line", xref=f"{xa} domain", yref=f"{ya} domain",
                               x0=xd(bx), y0=yd(by0), x1=xd(bx), y1=yd(by1), line=dict(color="black", width=2)))
            a, b, c2, d = L["mline"]
            shapes.append(dict(type="line", xref=f"{xa} domain", yref=f"{ya} domain",
                               x0=xd(a), y0=yd(b), x1=xd(c2), y1=yd(d), line=dict(color="black", width=2)))

# axis titles
annotations.append(dict(xref="paper", yref="paper", x=35 / W, y=1 - 432 / H, textangle=-90,
                        xanchor="center", yanchor="middle", showarrow=False,
                        text="<b>cell number</b>", font=dict(size=39, family=FONT, color="black")))
annotations.append(dict(xref="paper", yref="paper", x=1093 / W, y=1 - 1127 / H,
                        xanchor="center", yanchor="middle", showarrow=False,
                        text="<b>log<sub>10</sub> fluorescence intensity</b>",
                        font=dict(size=43, family=FONT, color="black")))

fig.update_layout(
    width=W, height=H, margin=dict(l=0, r=0, t=0, b=0),
    paper_bgcolor="white", plot_bgcolor="white",
    shapes=shapes, annotations=annotations, showlegend=False,
    **layout_axes,
)

fig.write_html("out.html", config={"displayModeBar": False},
               post_script="document.body.style.margin='0px';document.body.style.overflow='hidden';")
